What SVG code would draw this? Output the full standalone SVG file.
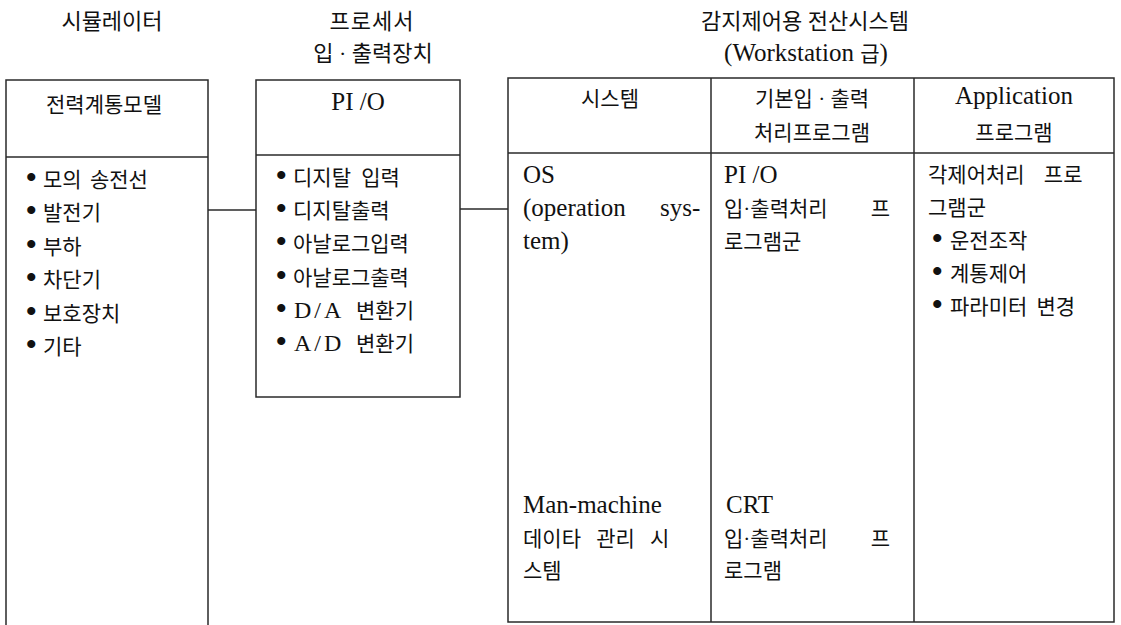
<svg xmlns="http://www.w3.org/2000/svg" width="1121" height="625" viewBox="0 0 1121 625">
<style>
.ln{fill:none;stroke:#2a2a2a;stroke-width:1.5}
.k{font-family:"Liberation Serif","Noto Sans CJK KR",serif;font-size:21px;fill:#111}
.t{font-family:"Liberation Serif","Noto Sans CJK KR",serif;font-size:22px;fill:#111}
.l{font-family:"Liberation Serif","Noto Sans CJK KR",serif;font-size:25px;fill:#111}
.m{text-anchor:middle}
.b{font-family:"Liberation Serif",serif;font-size:30px;font-weight:bold}
</style>
<rect width="1121" height="625" fill="#fff"/>
<g id="connectors">
<line class="ln" x1="208" y1="210" x2="256" y2="210"/>
<line class="ln" x1="460" y1="209" x2="508" y2="209"/>
</g>
<g id="simulator">
<text class="t m" x="112" y="29">시뮬레이터</text>
<path class="ln" d="M6,625 V80 H208 V625"/>
<line class="ln" x1="6" y1="157" x2="208" y2="157"/>
<text class="k m" x="104" y="112">전력계통모델</text>
<text class="k" y="187"><tspan class="b" x="26">•</tspan><tspan x="43" word-spacing="3">모의 송전선</tspan></text>
<text class="k" y="220"><tspan class="b" x="26">•</tspan><tspan x="43">발전기</tspan></text>
<text class="k" y="254"><tspan class="b" x="26">•</tspan><tspan x="43">부하</tspan></text>
<text class="k" y="287"><tspan class="b" x="26">•</tspan><tspan x="43">차단기</tspan></text>
<text class="k" y="321"><tspan class="b" x="26">•</tspan><tspan x="43">보호장치</tspan></text>
<text class="k" y="354"><tspan class="b" x="26">•</tspan><tspan x="43">기타</tspan></text>
</g>
<g id="processor">
<text class="t m" x="372" y="29" letter-spacing="1">프로세서</text>
<text class="t m" x="373" y="61">입 · 출력장치</text>
<rect class="ln" x="256" y="80" width="204" height="317"/>
<line class="ln" x1="256" y1="155" x2="460" y2="155"/>
<text class="l m" x="358" y="110">PI /O</text>
<text class="k" y="185"><tspan class="b" x="276">•</tspan><tspan x="293" word-spacing="5">디지탈 입력</tspan></text>
<text class="k" y="218"><tspan class="b" x="276">•</tspan><tspan x="293">디지탈출력</tspan></text>
<text class="k" y="251"><tspan class="b" x="276">•</tspan><tspan x="293">아날로그입력</tspan></text>
<text class="k" y="285"><tspan class="b" x="276">•</tspan><tspan x="293">아날로그출력</tspan></text>
<text class="k" y="318"><tspan class="b" x="276">•</tspan><tspan x="294" font-size="24" letter-spacing="3">D/A</tspan><tspan x="356">변환기</tspan></text>
<text class="k" y="351"><tspan class="b" x="276">•</tspan><tspan x="294" font-size="24" letter-spacing="3">A/D</tspan><tspan x="356">변환기</tspan></text>
</g>
<g id="computer-system">
<text class="t m" x="805" y="29">감지제어용 전산시스템</text>
<text class="l m" x="806" y="61">(Workstation <tspan font-size="21">급</tspan>)</text>
<rect class="ln" x="508" y="78" width="606" height="544"/>
<line class="ln" x1="711" y1="78" x2="711" y2="622"/>
<line class="ln" x1="914" y1="78" x2="914" y2="622"/>
<line class="ln" x1="508" y1="153" x2="1114" y2="153"/>
<text class="k m" x="610" y="106">시스템</text>
<text class="k m" x="812" y="106">기본입 · 출력</text>
<text class="k m" x="812" y="140">처리프로그램</text>
<text class="l m" x="1014" y="104">Application</text>
<text class="k m" x="1014" y="140">프로그램</text>
<text class="l" x="523" y="183">OS</text>
<text class="l" x="523" y="216" word-spacing="28">(operation sys-</text>
<text class="l" x="523" y="249">tem)</text>
<text class="l" x="523" y="513">Man-machine</text>
<text class="k" x="523" y="546" word-spacing="10">데이타 관리 시</text>
<text class="k" x="523" y="578">스템</text>
<text class="l" x="724" y="183">PI /O</text>
<text class="k" x="724" y="216" word-spacing="38">입·출력처리 프</text>
<text class="k" x="724" y="249">로그램군</text>
<text class="l" x="726" y="513">CRT</text>
<text class="k" x="724" y="546" word-spacing="38">입·출력처리 프</text>
<text class="k" x="724" y="578">로그램</text>
<text class="k" x="928" y="182" word-spacing="14">각제어처리 프로</text>
<text class="k" x="928" y="215">그램군</text>
<text class="k" y="248"><tspan class="b" x="932">•</tspan><tspan x="950">운전조작</tspan></text>
<text class="k" y="281"><tspan class="b" x="932">•</tspan><tspan x="950">계통제어</tspan></text>
<text class="k" y="314"><tspan class="b" x="932">•</tspan><tspan x="950" word-spacing="4">파라미터 변경</tspan></text>
</g>
</svg>
